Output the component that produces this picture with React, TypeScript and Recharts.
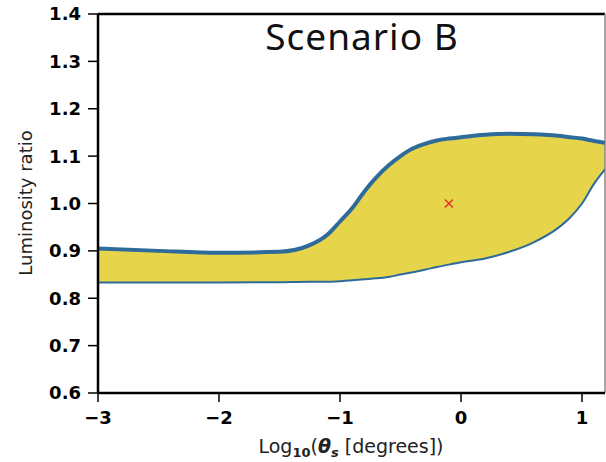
import React from 'react';
import { ComposedChart, Area, Line, Scatter, XAxis, YAxis, ReferenceLine } from 'recharts';

const thetaLog = [-3, -2.5, -2, -1.5, -1.25, -1.1, -1, -0.9, -0.8, -0.7, -0.6, -0.5, -0.4, -0.3, -0.2, -0.1, 0, 0.2, 0.4, 0.6, 0.8, 0.9, 1.0, 1.1, 1.19];
const upperRatio = [0.905, 0.9, 0.896, 0.898, 0.912, 0.935, 0.962, 0.99, 1.025, 1.055, 1.08, 1.1, 1.116, 1.126, 1.133, 1.137, 1.14, 1.145, 1.147, 1.146, 1.143, 1.14, 1.137, 1.132, 1.128];
const lowerRatio = [0.833, 0.833, 0.833, 0.834, 0.835, 0.835, 0.836, 0.838, 0.84, 0.842, 0.845, 0.85, 0.855, 0.86, 0.866, 0.871, 0.876, 0.884, 0.898, 0.918, 0.948, 0.97, 1.0, 1.042, 1.072];
const bestFit = [{ x: -0.1, y: 1.0 }];
const xTicks = [-3, -2, -1, 0, 1];
const yTicks = [0.6, 0.7, 0.8, 0.9, 1.0, 1.1, 1.2, 1.3, 1.4];

const bandData = thetaLog.map((x, i) => ({
    x,
    range: [lowerRatio[i], upperRatio[i]],
    low: lowerRatio[i],
    high: upperRatio[i],
}));

const tickFont = { fontFamily: 'DejaVu Sans', fontWeight: 'bold', fontSize: 18, fill: '#000' };

const Cross = (props: any) => {
    const { cx, cy } = props;
    const s = 4;
    return (
        <g stroke="#e8322a" strokeWidth={1.5}>
            <line x1={cx - s} y1={cy - s} x2={cx + s} y2={cy + s} />
            <line x1={cx - s} y1={cy + s} x2={cx + s} y2={cy - s} />
        </g>
    );
};

export default function App() {
    return (
        <div style={{ position: 'absolute', left: 0, top: 0, width: 606, height: 462, background: '#fff' }}>
            <ComposedChart width={606} height={462} data={bandData} margin={{ top: 14, right: 1, left: 0, bottom: 0 }}>
                <XAxis
                    dataKey="x"
                    type="number"
                    domain={[-3, 1.19]}
                    allowDataOverflow
                    ticks={xTicks}
                    tickFormatter={(v: number) => String(v).replace('-', '\u2212')}
                    tick={tickFont}
                    axisLine={{ stroke: '#000', strokeWidth: 2.5 }}
                    tickLine={{ stroke: '#000', strokeWidth: 1.5 }}
                    tickSize={9}
                    tickMargin={9}
                    height={69}
                />
                <YAxis
                    type="number"
                    domain={[0.6, 1.4]}
                    allowDataOverflow
                    ticks={yTicks}
                    tickFormatter={(v: number) => v.toFixed(1)}
                    tick={tickFont}
                    axisLine={{ stroke: '#000', strokeWidth: 2.5 }}
                    tickLine={{ stroke: '#000', strokeWidth: 1.5 }}
                    tickSize={10}
                    tickMargin={7}
                    width={98}
                />
                <ReferenceLine y={1.4} stroke="#000" strokeWidth={2.5} />
                <ReferenceLine x={1.19} stroke="#888" strokeWidth={1.5} />
                <Area dataKey="range" type="monotone" fill="#e6d44b" fillOpacity={1} stroke="none" isAnimationActive={false} />
                <Line dataKey="high" type="monotone" stroke="#2f6b9a" strokeWidth={4} dot={false} isAnimationActive={false} />
                <Line dataKey="low" type="monotone" stroke="#2f6b9a" strokeWidth={2} dot={false} isAnimationActive={false} />
                <Scatter data={bestFit} dataKey="y" shape={<Cross />} isAnimationActive={false} />
                <text x={362} y={50} textAnchor="middle" fontFamily="'Noto Sans', sans-serif" fontSize={37} letterSpacing={1} fill="#111">
                    Scenario B
                </text>
                <text
                    x={32}
                    y={203}
                    transform="rotate(-90 32 203)"
                    textAnchor="middle"
                    fontFamily="'DejaVu Sans', sans-serif"
                    fontSize={18}
                    fill="#222"
                >
                    Luminosity ratio
                </text>
                <text x={351} y={453} textAnchor="middle" fontFamily="'DejaVu Sans', sans-serif" fontSize={19} fill="#222">
                    Log
                    <tspan fontWeight="bold" fontSize={13} dy={4}>10</tspan>
                    <tspan dy={-4}>(</tspan>
                    <tspan fontWeight="bold" fontStyle="italic">θ</tspan>
                    <tspan fontWeight="bold" fontStyle="italic" fontSize={13} dy={4}>s</tspan>
                    <tspan dy={-4}> [degrees])</tspan>
                </text>
            </ComposedChart>
        </div>
    );
}
